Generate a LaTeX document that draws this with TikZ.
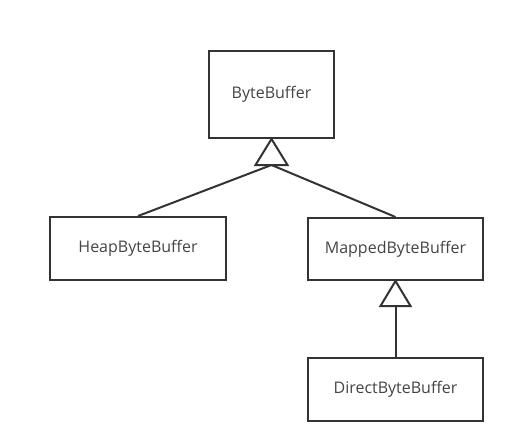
\documentclass[tikz,border=0pt]{standalone}
\usepackage{fontspec}
\setmainfont{Open Sans}
\usepackage{xcolor}
\usepackage{tikz}
\usetikzlibrary{positioning}
\definecolor{umlgray}{HTML}{333333}
\definecolor{labelgray}{HTML}{444444}
\tikzstyle{classbox} = [rectangle, draw=umlgray, line width=2pt, text=labelgray, text centered, font=\fontsize{16}{19}\selectfont]
\tikzstyle{link} = [draw=umlgray, line width=2pt]

\begin{document}
\begin{tikzpicture}[x=1pt, y=1pt]
\useasboundingbox (0,0) rectangle (521,-440);
\node (bb) [classbox, minimum width=125pt, minimum height=87pt] at (271.5,-94.5) {ByteBuffer};
\node (heap) [classbox, minimum width=176pt, minimum height=63pt, below=77pt of bb, xshift=-133.5pt] {HeapByteBuffer};
\node (mapped) [classbox, minimum width=175pt, minimum height=62pt, below=78pt of bb, xshift=124pt] {MappedByteBuffer};
\node (direct) [classbox, minimum width=175pt, minimum height=63pt, below=76pt of mapped] {DirectByteBuffer};

% generalisation triangles
\draw [link, line join=miter] (bb.south) -- ++(-16,-26) -- ++(32,0) -- cycle;
\coordinate (gen1) at ([yshift=-26pt]bb.south);
\draw [link, line join=miter] (mapped.south) -- ++(-15,-25) -- ++(30,0) -- cycle;
\coordinate (gen2) at ([yshift=-25pt]mapped.south);

\draw [link] (heap.north) -- (gen1);
\draw [link] (mapped.north) -- (gen1);
\draw [link] (direct.north) -- (gen2);
\end{tikzpicture}
\end{document}
